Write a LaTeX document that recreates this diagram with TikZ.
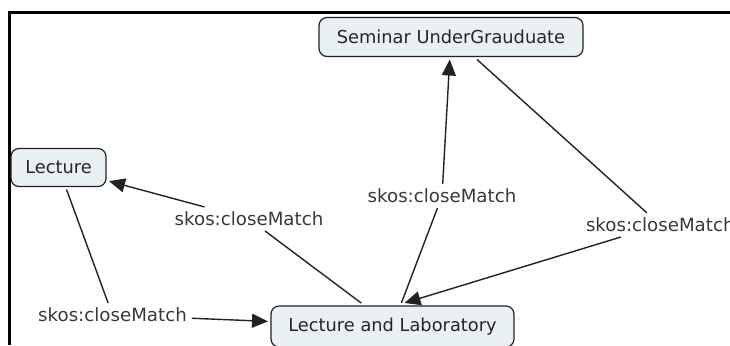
\documentclass[tikz,border=0pt]{standalone}
\usepackage{fontspec}
\setmainfont{DejaVu Sans}
\usetikzlibrary{arrows.meta}
\definecolor{nodefill}{HTML}{E9F1F5}
\definecolor{edgecol}{HTML}{222222}
\definecolor{labcol}{HTML}{383838}
\begin{document}
\begin{tikzpicture}[x=1pt,y=-1pt,
  concept/.style={draw=edgecol, line width=1.2pt, fill=nodefill, rounded corners=8pt,
    font=\fontsize{17.8}{20}\selectfont, text=black!85, inner sep=0pt, outer sep=3pt},
  linklab/.style={font=\fontsize{18.2}{20}\selectfont, text=labcol, inner sep=0pt, outer sep=5pt},
  conn/.style={draw=edgecol, line width=1.4pt},
  arr/.style={conn, -{Triangle[length=16pt,width=14pt]}}]
\useasboundingbox (0,0) rectangle (730,345);
\clip (0,0) rectangle (730,345);
% frame
\draw[line width=2.4pt, black] (9.5,345) -- (9.5,12.5) -- (731,12.5);
% concepts
\node[concept, minimum width=264pt, minimum height=39pt] (sem) at (451,37) {Seminar UnderGrauduate};
\node[concept, minimum width=95pt, minimum height=38pt] (lec) at (58.5,167.5) {Lecture};
\node[concept, minimum width=243pt, minimum height=41pt] (ll) at (392.5,326.5) {Lecture and Laboratory};
% linking phrases
\node[linklab] (lb1) at (112.5,315) {skos:closeMatch};
\node[linklab] (lb2) at (249,219) {skos:closeMatch};
\node[linklab] (lb3) at (442,196) {skos:closeMatch};
\node[linklab, anchor=west] (lb4) at (581,225) {skos:closeMatch};
% connectors
\draw[conn] (lec) -- (lb1);
\draw[arr] (lb1) -- (ll);
\draw[conn] (ll) -- (lb2);
\draw[arr] (lb2) -- (lec);
\draw[conn] (ll) -- (lb3);
\draw[arr] (lb3) -- (sem);
\draw[conn] ([xshift=26pt]sem.south) -- (lb4);
\draw[arr] (lb4) -- ([xshift=12pt]ll.north);
\end{tikzpicture}
\end{document}
